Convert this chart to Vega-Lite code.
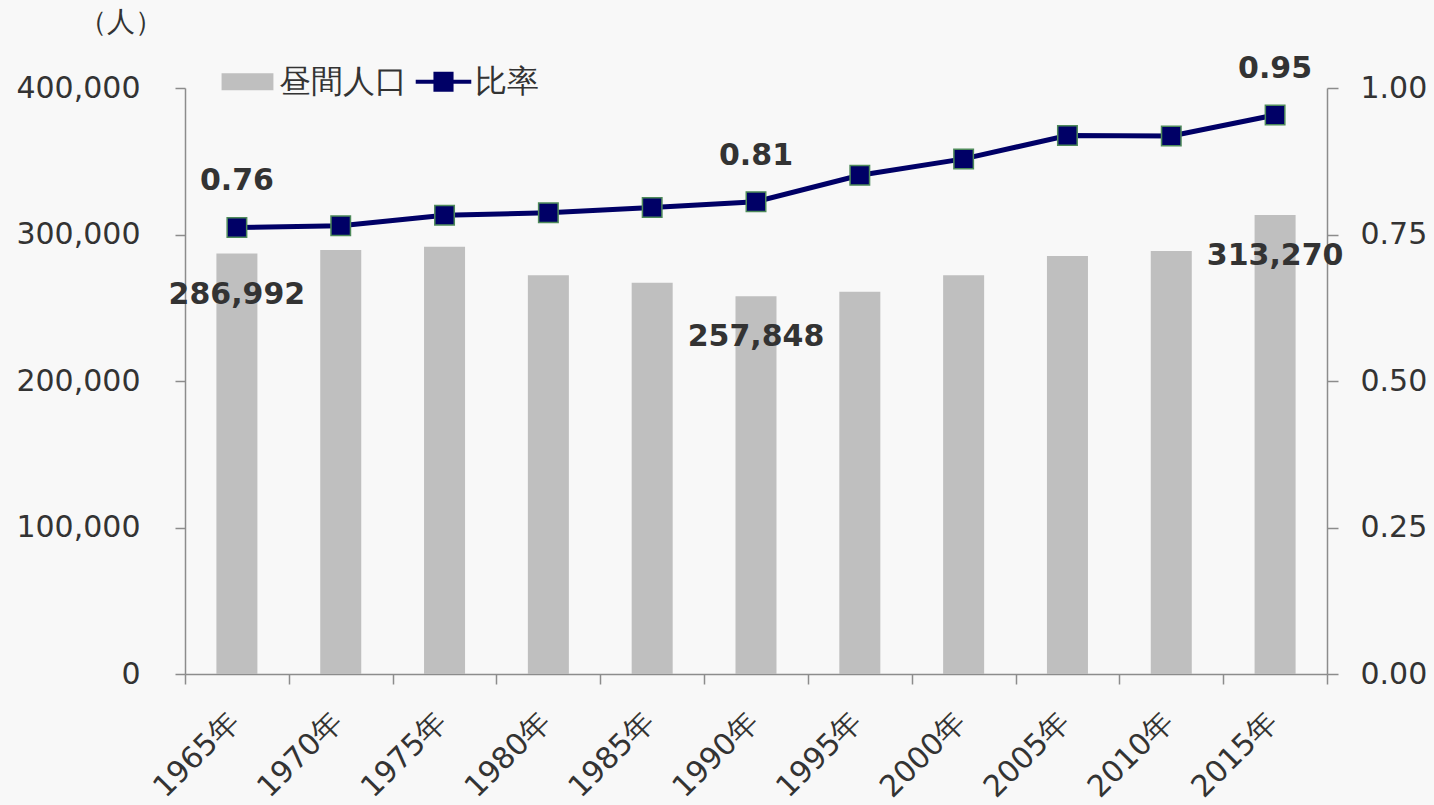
{
  "$schema": "https://vega.github.io/schema/vega-lite/v6.json",
  "autosize": {"type": "none"},
  "width": 1142,
  "height": 586,
  "padding": {"left": 185, "top": 88, "right": 107, "bottom": 131},
  "background": "#f8f8f8",
  "config": {
    "view": {"stroke": null},
    "font": "DejaVu Sans",
    "axis": {
      "labelFont": "DejaVu Sans",
      "labelFontSize": 30,
      "labelColor": "#333333",
      "domainColor": "#8c8c8c",
      "tickColor": "#8c8c8c",
      "domainWidth": 1.5,
      "tickWidth": 1.5,
      "grid": false,
      "titleFont": "DejaVu Sans"
    }
  },
  "data": {
    "values": [
      {"year": "1965年", "pop": 286992, "ratio": 0.762},
      {"year": "1970年", "pop": 289400, "ratio": 0.765},
      {"year": "1975年", "pop": 291700, "ratio": 0.783},
      {"year": "1980年", "pop": 272200, "ratio": 0.787},
      {"year": "1985年", "pop": 267100, "ratio": 0.796},
      {"year": "1990年", "pop": 257848, "ratio": 0.806},
      {"year": "1995年", "pop": 261000, "ratio": 0.851},
      {"year": "2000年", "pop": 272200, "ratio": 0.879},
      {"year": "2005年", "pop": 285300, "ratio": 0.919},
      {"year": "2010年", "pop": 288700, "ratio": 0.918},
      {"year": "2015年", "pop": 313270, "ratio": 0.954}
    ]
  },
  "encoding": {
    "x": {
      "field": "year",
      "type": "nominal",
      "sort": null,
      "scale": {"paddingInner": 0, "paddingOuter": 0},
      "axis": {
        "title": null,
        "labelAngle": -45,
        "labelAlign": "right",
        "labelBaseline": "middle",
        "labelPadding": 33,
        "labelOffset": -3,
        "tickBand": "extent",
        "tickSize": 10
      }
    }
  },
  "layer": [
    {
      "layer": [
        {
          "mark": {"type": "bar", "color": "#bfbfbf", "width": {"band": 0.395}},
          "encoding": {
            "y": {
              "field": "pop",
              "type": "quantitative",
              "scale": {"domain": [0, 400000], "nice": false},
              "axis": {
                "orient": "left",
                "values": [0, 100000, 200000, 300000, 400000],
                "format": ",.0f",
                "tickSize": 10,
                "labelPadding": 35,
                "title": "（人）",
                "titleAngle": 0,
                "titleX": -65,
                "titleY": -66,
                "titleAlign": "center",
                "titleBaseline": "middle",
                "titleFontSize": 28,
                "titleFontWeight": "normal",
                "titleColor": "#333333"
              }
            },
            "color": {
              "datum": "昼間人口",
              "type": "nominal",
              "scale": {"domain": ["昼間人口", "比率"], "range": ["#bfbfbf", "#000066"]},
              "legend": {
                "title": null,
                "orient": "none",
                "direction": "horizontal",
                "legendX": 36,
                "legendY": -33,
                "labelFont": "DejaVu Sans",
                "labelFontSize": 32,
                "labelColor": "#333333",
                "symbolSize": 2800,
                "labelOffset": 5,
                "columnPadding": 8,
                "symbolOpacity": 1,
                "encode": {
                  "symbols": {
                    "update": {
                      "shape": {"signal": "datum.value === '比率' ? 'M-1.05,-0.08H1.05V0.08H-1.05Z M-0.38,-0.38H0.38V0.38H-0.38Z' : 'M-0.98,-0.32H0.98V0.32H-0.98Z'"},
                      "fill": {"signal": "datum.value === '比率' ? '#000066' : '#bfbfbf'"},
                      "stroke": {"value": "transparent"},
                      "strokeWidth": {"value": 0},
                      "opacity": {"value": 1},
                      "fillOpacity": {"value": 1}
                    }
                  }
                }
              }
            }
          }
        },
        {
          "transform": [{"filter": {"field": "year", "oneOf": ["1965年", "1990年", "2015年"]}}],
          "mark": {"type": "text", "fontSize": 30, "fontWeight": "bold", "color": "#333333", "baseline": "middle", "align": "center", "dy": 41},
          "encoding": {
            "y": {"field": "pop", "type": "quantitative"},
            "text": {"field": "pop", "type": "quantitative", "format": ",.0f"}
          }
        }
      ]
    },
    {
      "layer": [
        {
          "mark": {"type": "line", "strokeWidth": 5},
          "encoding": {
            "y": {
              "field": "ratio",
              "type": "quantitative",
              "scale": {"domain": [0, 1], "nice": false},
              "axis": {
                "orient": "right",
                "values": [0, 0.25, 0.5, 0.75, 1],
                "format": ".2f",
                "tickSize": 11,
                "labelPadding": 22,
                "title": null
              }
            },
            "color": {"datum": "比率", "type": "nominal"}
          }
        },
        {
          "mark": {"type": "point", "shape": "square", "size": 380, "filled": true, "fill": "#000066", "stroke": "#4e8a5a", "strokeWidth": 1.5, "opacity": 1},
          "encoding": {
            "y": {"field": "ratio", "type": "quantitative"}
          }
        },
        {
          "transform": [{"filter": {"field": "year", "oneOf": ["1965年", "1990年", "2015年"]}}],
          "mark": {"type": "text", "fontSize": 30, "fontWeight": "bold", "color": "#333333", "baseline": "middle", "align": "center", "dy": -46},
          "encoding": {
            "y": {"field": "ratio", "type": "quantitative"},
            "text": {"field": "ratio", "type": "quantitative", "format": ".2f"}
          }
        }
      ]
    }
  ],
  "resolve": {"scale": {"y": "independent"}}
}
